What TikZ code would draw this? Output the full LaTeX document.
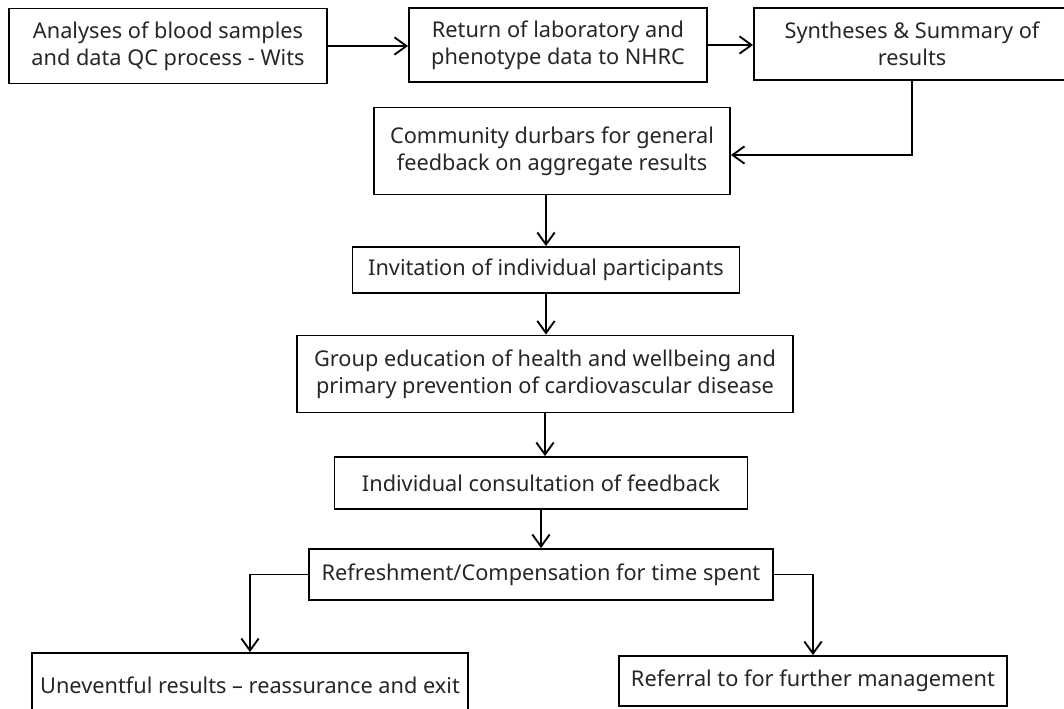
\documentclass[tikz,border=0pt]{standalone}
\usepackage{fontspec}
\setmainfont{Noto Sans}
\usetikzlibrary{arrows.meta}

\begin{document}
\begin{tikzpicture}[x=0.75pt, y=-0.75pt, line width=1.4pt,
    stage/.style={draw, align=center, inner sep=0pt, text=black!85,
      font=\fontsize{16.3}{20.5}\selectfont},
    flow/.style={-{Straight Barb[length=9pt, width=13pt]}}]
    \useasboundingbox (0,0) rectangle (1064,709);

    \node[stage, minimum width=238.5pt, minimum height=56.25pt] (A)   at ( 168,  46)  {Analyses of blood samples \\ and data QC process - Wits};
    \node[stage, minimum width=223.5pt, minimum height=55.5pt]  (R)   at ( 558,  45)  {Return of laboratory and \\ phenotype data to NHRC};
    \node[stage, minimum width=237pt,   minimum height=54pt]    (S)   at ( 912,  44)  {Syntheses \& Summary of \\ results};

    \node[stage, minimum width=267pt,   minimum height=65.25pt] (C)   at ( 552, 151)  {Community durbars for general \\ feedback on aggregate results};
    \node[stage, minimum width=290.25pt, minimum height=34.5pt] (I)   at ( 546, 270)  {Invitation of individual participants};
    \node[stage, minimum width=372pt,   minimum height=57.75pt] (G)   at ( 545, 374)  {Group education of health and wellbeing and \\ primary prevention of cardiovascular disease};
    \node[stage, minimum width=309.75pt, minimum height=39pt]   (IC)  at ( 541, 483)  {Individual consultation of feedback};
    \node[stage, minimum width=348pt,   minimum height=38.25pt] (RC)  at ( 541, 574.5) {Refreshment/Compensation for time spent};

    \node[stage, minimum width=327pt,   minimum height=48pt]    (U)   at ( 250, 685)  {Uneventful results -- reassurance and exit};
    \node[stage, minimum width=291pt,   minimum height=37.5pt]  (F)   at ( 813, 681)  {Referral to for further management};

    \draw[flow] (A.east) -- (A.east -| R.west);
    \draw[flow] (R.east) -- (R.east -| S.west);
    \draw[flow] (S.south) |- ([yshift=-3pt]C.east);

    \draw[flow] (C.south -| I.north) -- (I.north);
    \draw[flow] (I.south) -- (I.south |- G.north);
    \draw[flow] (G.south) -- (G.south |- IC.north);
    \draw[flow] (IC.south) -- (RC.north);

    \draw[flow] (RC.west) -| (U.north);
    \draw[flow] (RC.east) -| (F.north);
\end{tikzpicture}
\end{document}
